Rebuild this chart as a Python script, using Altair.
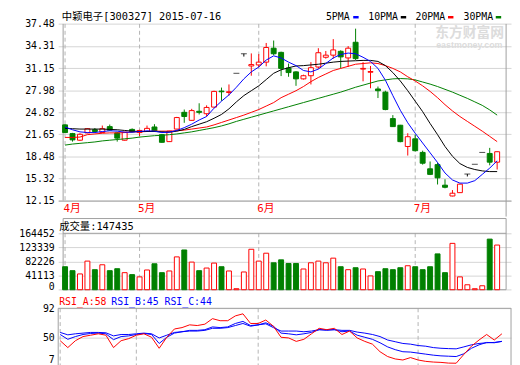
import altair as alt
import pandas as pd

# ---------------- data ----------------
OPEN = [23.0, 21.75, 20.8, 21.85, 22.3, 21.9, 22.75, 21.85, 20.8, 22.35,
        21.9, 22.05, 22.7, 21.6, 20.6, 22.4, 24.8, 23.65, 24.95, 24.6,
        25.55, 27.85, 27.65, 30.4, 33.2, 31.45, 31.6, 32.0, 34.0, 33.4,
        31.15, 30.6, 29.6, 30.05, 31.3, 32.7, 33.0, 33.55, 32.6, 34.85,
        31.0, 30.55, 28.15, 27.7, 23.9, 22.95, 19.9, 21.0, 19.05, 16.7,
        17.3, 14.35, 12.8, 13.28, 15.95, 17.35, 19.05, 18.9, 17.65]
HIGH = [23.1, 21.85, 21.8, 22.55, 22.55, 22.9, 23.05, 21.95, 22.0, 22.5,
        22.3, 22.9, 23.1, 21.7, 22.15, 24.15, 25.2, 25.3, 26.1, 25.8,
        27.9, 28.35, 28.8, 30.4, 33.2, 33.25, 33.15, 34.75, 35.1, 33.5,
        31.8, 30.7, 30.2, 32.0, 34.0, 33.6, 35.3, 33.7, 34.3, 36.8,
        32.0, 31.45, 28.5, 27.9, 24.4, 23.0, 21.8, 21.6, 19.3, 17.75,
        17.6, 15.2, 13.65, 14.55, 15.95, 17.35, 19.05, 19.7, 19.2]
LOW = [21.8, 20.6, 20.7, 21.8, 21.85, 21.85, 22.15, 20.6, 20.75, 21.9,
       21.4, 22.0, 22.0, 20.45, 20.55, 22.35, 23.3, 23.6, 24.5, 24.2,
       25.5, 26.45, 27.2, 30.4, 32.8, 30.05, 31.3, 31.4, 33.0, 30.0,
       29.9, 28.6, 29.5, 28.8, 31.05, 32.5, 32.5, 31.1, 31.3, 32.3,
       29.25, 28.25, 26.85, 25.1, 22.7, 20.5, 18.6, 19.2, 17.3, 15.8,
       14.45, 13.9, 12.75, 13.25, 15.6, 17.35, 19.05, 17.2, 16.6]
CLOSE = [21.9, 20.85, 21.65, 22.45, 22.05, 22.45, 22.25, 21.1, 21.95, 22.0,
         22.2, 22.5, 22.1, 20.5, 22.1, 24.05, 24.2, 25.05, 24.8, 25.5,
         27.8, 27.75, 27.75, 30.4, 33.2, 31.65, 32.0, 34.1, 33.2, 31.1,
         30.5, 29.6, 30.05, 31.2, 33.35, 33.0, 33.75, 32.75, 34.0, 32.5,
         31.1, 30.65, 27.9, 25.2, 22.75, 20.6, 21.3, 19.3, 17.5, 15.9,
         15.4, 14.05, 13.2, 14.5, 15.95, 17.35, 19.05, 17.65, 19.15]
VOLUME = [67000, 55500, 46000, 83400, 58400, 72700, 55500, 61200, 49700, 44000,
          37400, 57500, 75600, 49700, 54600, 95700, 115900, 80500, 55500, 63200,
          77600, 67000, 54600, 2900, 51700, 117900, 83400, 106400, 78500, 87100,
          76500, 76500, 60400, 78500, 83400, 78500, 92000, 67000, 58400, 64100,
          60400, 40200, 52600, 61200, 58400, 64100, 69900, 67000, 58400, 67000,
          104400, 49700, 135100, 37400, 14400, 2900, 11500, 147500, 130200]
MA5 = [22.7, 22.3, 22.0, 21.9, 21.9, 22.05, 22.15, 22.1, 21.95, 21.95,
       22.05, 22.15, 22.1, 21.9, 21.95, 22.2, 22.6, 23.1, 23.7, 24.2,
       25.4, 26.4, 27.3, 28.4, 29.6, 30.6, 31.3, 32.3, 32.9, 32.6,
       32.0, 31.5, 30.8, 30.6, 31.0, 31.8, 32.6, 33.1, 33.3, 33.2,
       32.7, 32.1, 31.1, 29.4, 27.2, 25.1, 23.3, 21.8, 20.4, 19.0,
       17.6, 16.1, 15.1, 14.65, 14.65, 15.0, 15.9, 16.8, 17.85]
MA10 = [22.5, 22.45, 22.4, 22.4, 22.4, 22.4, 22.35, 22.3, 22.2, 22.1,
        22.05, 22.05, 22.05, 22.0, 21.95, 22.1, 22.35, 22.75, 23.1, 23.45,
        23.95, 24.5, 25.3, 26.3, 27.2, 27.9, 28.6, 29.5, 30.4, 30.9,
        31.2, 31.45, 31.5, 31.6, 31.7, 31.85, 32.0, 32.1, 32.15, 32.2,
        32.25, 32.25, 32.1, 31.5, 30.5, 29.3, 27.9, 26.4, 24.9, 23.2,
        21.6, 19.9, 18.5, 17.45, 16.9, 16.6, 16.4, 16.3, 16.3]
MA20 = [21.2, 21.2, 21.25, 21.6, 21.7, 21.8, 21.85, 21.85, 21.9, 22.0,
        22.0, 22.05, 22.1, 22.1, 22.1, 22.15, 22.25, 22.4, 22.55, 22.7,
        23.0, 23.35, 23.7, 24.05, 24.4, 24.8, 25.2, 25.7, 26.2, 26.9,
        27.4, 27.9, 28.5, 29.2, 29.8, 30.3, 30.8, 31.1, 31.4, 31.7,
        31.8, 31.9, 31.8, 31.5, 31.1, 30.6, 29.9, 29.3, 28.6, 27.8,
        26.9, 25.9, 25.0, 24.2, 23.5, 22.8, 22.1, 21.35, 20.6]
MA30 = [20.1, 20.25, 20.35, 20.45, 20.55, 20.7, 20.8, 20.9, 21.0, 21.1,
        21.25, 21.35, 21.45, 21.5, 21.6, 21.7, 21.85, 22.0, 22.2, 22.4,
        22.6, 22.85, 23.15, 23.5, 23.8, 24.1, 24.4, 24.7, 25.0, 25.3,
        25.6, 25.9, 26.2, 26.5, 26.8, 27.1, 27.4, 27.7, 28.05, 28.4,
        28.7, 29.0, 29.3, 29.45, 29.6, 29.65, 29.6, 29.45, 29.15, 28.85,
        28.5, 28.1, 27.7, 27.25, 26.8, 26.3, 25.8, 25.15, 24.4]
RSI_A = [45, 35, 45, 51, 53, 55, 53, 35, 45, 48,
         53, 55, 50, 34, 50, 62, 64, 68, 67, 69,
         77, 74, 74, 81, 84, 70, 70, 75, 66, 50,
         49, 44, 47, 55, 63, 61, 63, 54, 59, 49,
         44, 40, 29, 22, 18.5, 17, 20.5, 17, 15, 14,
         13.5, 12.5, 12.3, 25, 37, 46, 54, 46, 55]
RSI_B = [54, 47, 51, 54, 55.5, 56, 55, 46.5, 51, 52,
         54, 55.5, 54, 41, 50, 56, 58, 60, 60, 61,
         65, 64, 65, 70, 73, 67, 68, 71, 66, 56,
         55, 53.5, 55, 57, 61, 60, 61, 58, 59, 53,
         50, 47, 42, 36, 32, 29, 28.5, 27, 25.5, 24,
         23, 22.5, 22, 26, 34, 39, 42.5, 42, 44]
RSI_C = [57, 53.5, 55, 56, 57, 57, 56.5, 52, 54, 54,
         55, 56, 55, 49, 53, 57, 58, 59, 59, 60,
         63, 63, 64, 67, 70, 66, 68, 69.5, 64, 59,
         59, 59, 58, 59, 61, 61, 61, 60, 60, 57.5,
         56, 54, 51, 46, 43.5, 41, 40, 38, 37, 35,
         34, 33.5, 33.2, 36, 39, 41, 42, 42.5, 44]

PRICE_TICKS = [12.15, 15.32, 18.48, 21.65, 24.82, 27.98, 31.15, 34.31, 37.48]
VOL_TICKS = [0, 41113, 82226, 123339, 164452]
RSI_TICKS = [7, 50, 92]
MONTH_IDX = [0, 10, 26, 47]
MONTH_LBL = ["4月", "5月", "6月", "7月"]
TITLE = "中颖电子[300327] 2015-07-16"
VOL_TITLE = "成交量:147435"
RSI_TITLES = ["RSI_A:58", "RSI_B:45", "RSI_C:44"]
MA_NAMES = ["5PMA", "10PMA", "20PMA", "30PMA"]
WATERMARK = ["东方财富网", "eastmoney.com"]

# ---------------- styling / layout ----------------
RED, GREEN, BLUE, BLACK = "#ff0000", "#008000", "#0000ff", "#000000"
GRID, FRAME, DASH = "#d4d4d4", "#a0a0a0", "#b4b4b4"
MONO = "DejaVu Sans Mono"
MIX = "DejaVu Sans Mono, Noto Sans CJK SC"

W = 460
H1, H2, H3 = 209, 72.3, 75.7
N = len(CLOSE)
X0, X1 = -0.26, N + 0.2
XS = alt.Scale(domain=[X0, X1], nice=False, zero=False)

# price scale: 37.48 sits 13.3px below panel top, 12.15 at 192.7px
p_top_px, p_bot_px = 13.3, 192.7
pxu = (p_bot_px - p_top_px) / (PRICE_TICKS[-1] - PRICE_TICKS[0])
P_TOP = PRICE_TICKS[-1] + p_top_px / pxu
P_BOT = PRICE_TICKS[0] - (H1 - p_bot_px) / pxu
PYS = alt.Scale(domain=[P_BOT, P_TOP], nice=False, zero=False)

v_top_px = 15.0
V_TOP = VOL_TICKS[-1] * H2 / (H2 - v_top_px)
VYS = alt.Scale(domain=[0, V_TOP], nice=False, zero=True)

r_top_px = 16.2
R_TOP = RSI_TICKS[0] + (RSI_TICKS[-1] - RSI_TICKS[0]) * H3 / (H3 - r_top_px)
RYS = alt.Scale(domain=[RSI_TICKS[0], R_TOP], nice=False, zero=False)

month_expr = " : ".join(
    f"datum.value == {i} ? '{l}'" for i, l in zip(MONTH_IDX, MONTH_LBL)) + " : ''"

XAX_P = alt.Axis(values=MONTH_IDX, labelExpr=month_expr, orient="bottom",
                 offset=-(H1 - p_bot_px), ticks=False, tickSize=0, grid=False,
                 domain=True, domainColor=FRAME, labelAlign="left",
                 labelBaseline="top", labelPadding=2, labelOffset=-2,
                 labelColor=RED, labelFont=MIX, labelFontSize=11,
                 labelOverlap=False, labelFlush=False, labelBound=False, title=None)


def yaxis(values, fmt, bottom_value=None, bottom_baseline="bottom", bottom_shift=0):
    kw = dict(values=values, format=fmt, grid=True, gridColor=GRID, ticks=False,
              tickSize=0, domain=False, labelPadding=4, labelFont=MONO,
              labelFontSize=10, labelColor=BLACK, minExtent=51, maxExtent=51,
              labelOverlap=False, labelFlush=False, title=None)
    if bottom_value is not None:
        test = f"datum.value == {bottom_value}"
        kw["labelBaseline"] = {"condition": {"test": test, "value": bottom_baseline},
                               "value": "middle"}
        if bottom_shift:
            kw["labelOffset"] = {"condition": {"test": test, "value": bottom_shift},
                                 "value": 0}
    else:
        kw["labelBaseline"] = "middle"
    return alt.Axis(**kw)


PAX = yaxis(PRICE_TICKS, ".2f")
VAX = yaxis(VOL_TICKS, "d", 0, "alphabetic")
RAX = yaxis(RSI_TICKS, "d", RSI_TICKS[0], "bottom", -2)

DIRS = ["up", "down", "flat"]
FILL_S = alt.Scale(domain=DIRS, range=["white", GREEN, BLACK])
STROKE_S = alt.Scale(domain=DIRS, range=[RED, GREEN, BLACK])

df = pd.DataFrame({"i": list(range(N)), "open": OPEN, "high": HIGH, "low": LOW,
                   "close": CLOSE, "vol": VOLUME, "ma5": MA5, "ma10": MA10,
                   "ma20": MA20, "ma30": MA30, "ra": RSI_A, "rb": RSI_B, "rc": RSI_C})
df["dir"] = ["up" if c > o else ("down" if c < o else "flat") for o, c in zip(OPEN, CLOSE)]
df["vdir"] = ["up" if c >= o else "down" for o, c in zip(OPEN, CLOSE)]

months = pd.DataFrame({"i": MONTH_IDX})


def text(s, x, y, color=BLACK, size=10, font=MONO, weight="normal"):
    return alt.Chart(pd.DataFrame({"t": [s]})).mark_text(
        align="left", baseline="middle", color=color, fontSize=size, font=font,
        fontWeight=weight).encode(x=alt.value(x), y=alt.value(y), text="t:N")


def panel_frame(xax, ys, yax, top, bottom, vtop, vbot, lines_dark):
    """dashed month lines, borders and dark horizontal lines for one panel"""
    layers = []
    md = months.assign(a=top, b=bottom)
    layers.append(alt.Chart(md).mark_rule(color=DASH, strokeDash=[4, 3]).encode(
        x=alt.X("i:Q", scale=XS, axis=xax), y=alt.Y("a:Q", scale=ys, axis=yax), y2="b:Q"))
    bd = pd.DataFrame({"i": [X0, X1], "a": [vtop[0], vtop[1]], "b": [vbot[0], vbot[1]]})
    layers.append(alt.Chart(bd).mark_rule(color=FRAME).encode(
        x=alt.X("i:Q", scale=XS, axis=xax), y=alt.Y("a:Q", scale=ys, axis=yax), y2="b:Q"))
    if lines_dark:
        hd = pd.DataFrame({"y": lines_dark, "a": [X0] * len(lines_dark),
                           "b": [X1] * len(lines_dark)})
        layers.append(alt.Chart(hd).mark_rule(color=FRAME).encode(
            x=alt.X("a:Q", scale=XS, axis=xax), x2="b:Q",
            y=alt.Y("y:Q", scale=ys, axis=yax)))
    return layers


# ---------------- price panel ----------------
base = alt.Chart(df)
XP = alt.X("i:Q", scale=XS, axis=XAX_P)

price_layers = panel_frame(XAX_P, PYS, PAX, PRICE_TICKS[-1], PRICE_TICKS[0],
                           (PRICE_TICKS[-1], PRICE_TICKS[-1]), (PRICE_TICKS[0], P_BOT), [])
# watermark first (behind everything)
price_layers.append(text(WATERMARK[0], 383, 22.5, color="#dcdcdc", size=14,
                         font="Noto Sans CJK SC", weight="bold"))
price_layers.append(text(WATERMARK[1], 384, 35, color="#dcdcdc", size=9,
                         font="Liberation Sans", weight="bold"))
price_layers += [
    base.mark_rule(strokeWidth=1).encode(
        x=XP, y=alt.Y("low:Q", scale=PYS, axis=PAX), y2="high:Q",
        color=alt.Color("dir:N", scale=STROKE_S, legend=None)),
    base.transform_filter("datum.dir != 'flat'").mark_bar(
        size=5, strokeWidth=1, orient="vertical").encode(
        x=XP, y=alt.Y("open:Q", scale=PYS, axis=PAX), y2="close:Q",
        fill=alt.Fill("dir:N", scale=FILL_S, legend=None),
        stroke=alt.Stroke("dir:N", scale=STROKE_S, legend=None)),
    base.transform_filter("datum.dir == 'flat'").mark_tick(
        orient="horizontal", size=6, thickness=1, color=BLACK).encode(
        x=XP, y=alt.Y("close:Q", scale=PYS, axis=PAX)),
]
for f, c in [("ma30", GREEN), ("ma20", RED), ("ma10", BLACK), ("ma5", BLUE)]:
    price_layers.append(base.mark_line(color=c, strokeWidth=1).encode(
        x=XP, y=alt.Y(f"{f}:Q", scale=PYS, axis=PAX)))

price_layers.append(text(TITLE, 3.7, 6, size=10.5, font=MIX))
leg = [(MA_NAMES[0], 272, 299.7, BLUE), (MA_NAMES[1], 315, 348, BLACK),
       (MA_NAMES[2], 363, 396, RED), (MA_NAMES[3], 411.7, 444.5, GREEN)]
for name, tx, dx, col in leg:
    price_layers.append(text(name, tx, 6))
    price_layers.append(alt.Chart(pd.DataFrame({"n": [name]})).mark_rule(
        color=col, strokeWidth=2.5).encode(x=alt.value(dx), x2=alt.value(dx + 5.5),
                                            y=alt.value(6.5)))

price = alt.layer(*price_layers).properties(width=W, height=H1)

# ---------------- volume panel ----------------
XN = alt.X("i:Q", scale=XS, axis=None)
vol_layers = panel_frame(None, VYS, VAX, VOL_TICKS[-1], 0, (V_TOP, V_TOP), (0, 0),
                         [V_TOP, VOL_TICKS[-1], 0])
vol_layers += [
    base.mark_bar(size=5, strokeWidth=1, orient="vertical").encode(
        x=XN, y=alt.Y("vol:Q", scale=VYS, axis=VAX),
        fill=alt.Fill("vdir:N", scale=FILL_S, legend=None),
        stroke=alt.Stroke("vdir:N", scale=STROKE_S, legend=None)),
    text(VOL_TITLE, 1, 9, size=10.5, font=MIX),
]
volume = alt.layer(*vol_layers).properties(width=W, height=H2)

# ---------------- RSI panel ----------------
rsi_layers = panel_frame(None, RYS, RAX, RSI_TICKS[-1], RSI_TICKS[0],
                         (RSI_TICKS[-1], RSI_TICKS[-1]), (RSI_TICKS[0], RSI_TICKS[0]),
                         [RSI_TICKS[-1]])
for f, c in [("rc", BLUE), ("rb", BLUE), ("ra", RED)]:
    rsi_layers.append(base.mark_line(color=c, strokeWidth=1).encode(
        x=XN, y=alt.Y(f"{f}:Q", scale=RYS, axis=RAX)))
rsi_layers += [text(RSI_TITLES[0], 1, 10, color=RED),
               text(RSI_TITLES[1], 54, 10, color=BLUE),
               text(RSI_TITLES[2], 108, 10, color=BLUE)]
rsi = alt.layer(*rsi_layers).properties(width=W, height=H3)

chart = alt.vconcat(price, volume, rsi, spacing=0).properties(
    padding={"left": 0, "top": 0, "right": 0, "bottom": 0},
    background="white",
).configure_view(strokeWidth=0)

chart.save("out.html", embed_options={"renderer": "svg", "actions": False})
